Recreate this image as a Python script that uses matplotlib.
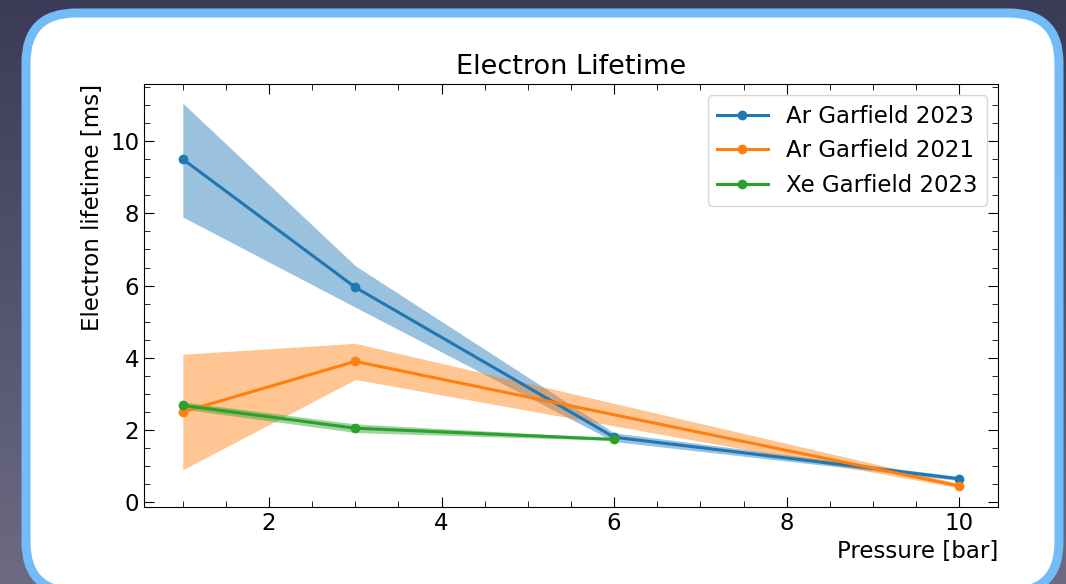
import numpy as np
import matplotlib
matplotlib.use("Agg")
import matplotlib.pyplot as plt
from matplotlib.patches import FancyBboxPatch
from matplotlib.colors import LinearSegmentedColormap

# data
p_ar23 = [1, 3, 6, 10]
ar23 = [9.5, 5.95, 1.8, 0.65]
ar23_lo = [7.9, 5.4, 1.68, 0.6]
ar23_hi = [11.05, 6.55, 1.92, 0.71]

p_ar21 = [1, 3, 10]
ar21 = [2.5, 3.9, 0.45]
ar21_lo = [0.9, 3.4, 0.4]
ar21_hi = [4.1, 4.4, 0.52]

p_xe23 = [1, 3, 6]
xe23 = [2.68, 2.05, 1.74]
xe23_lo = [2.58, 1.93, 1.71]
xe23_hi = [2.78, 2.17, 1.78]

plt.rcParams.update({
    "font.size": 16.5,
    "xtick.direction": "in",
    "ytick.direction": "in",
    "xtick.top": True,
    "ytick.right": True,
    "xtick.minor.visible": True,
    "ytick.minor.visible": True,
    "xtick.major.size": 7,
    "ytick.major.size": 7,
    "xtick.minor.size": 4,
    "ytick.minor.size": 4,
})

W, H = 1066, 584
fig = plt.figure(figsize=(W / 100, H / 100), dpi=100)

# slide background with gradient and rounded white card
bg = fig.add_axes([0, 0, 1, 1])
bg.set_xlim(0, W)
bg.set_ylim(0, H)
bg.axis("off")
cmap = LinearSegmentedColormap.from_list("slide", ["#6c6b82", "#3b3b57"])
grad = np.linspace(1, 0, 256).reshape(-1, 1)
bg.imshow(grad, extent=[0, W, 0, H], aspect="auto", cmap=cmap, zorder=0)
card = FancyBboxPatch((26, -8), W - 26 - 7, H - 13 + 8,
                      boxstyle="round,pad=0,rounding_size=50",
                      facecolor="white", edgecolor="#72bcf7", linewidth=6.5, zorder=1)
bg.add_patch(card)

ax = fig.add_axes([144 / W, 1 - 507 / H, (998 - 144) / W, (507 - 84) / H])

ax.fill_between(p_ar23, ar23_lo, ar23_hi, color="C0", alpha=0.45, linewidth=0)
ax.plot(p_ar23, ar23, "-o", color="C0", lw=2.2, ms=6, label="Ar Garfield 2023")
ax.fill_between(p_ar21, ar21_lo, ar21_hi, color="C1", alpha=0.45, linewidth=0)
ax.plot(p_ar21, ar21, "-o", color="C1", lw=2.2, ms=6, label="Ar Garfield 2021")
ax.fill_between(p_xe23, xe23_lo, xe23_hi, color="C2", alpha=0.45, linewidth=0)
ax.plot(p_xe23, xe23, "-o", color="C2", lw=2.2, ms=6, label="Xe Garfield 2023")

ax.set_xticks([2, 4, 6, 8, 10])
ax.set_yticks([0, 2, 4, 6, 8, 10])
ax.set_title("Electron Lifetime", fontsize=19.5, pad=7)
ax.set_xlabel("Pressure [bar]", loc="right")
ax.set_ylabel("Electron lifetime [ms]", loc="top")
ax.legend(loc="upper right", handlelength=2.2)

plt.savefig("out.png", dpi=100)
